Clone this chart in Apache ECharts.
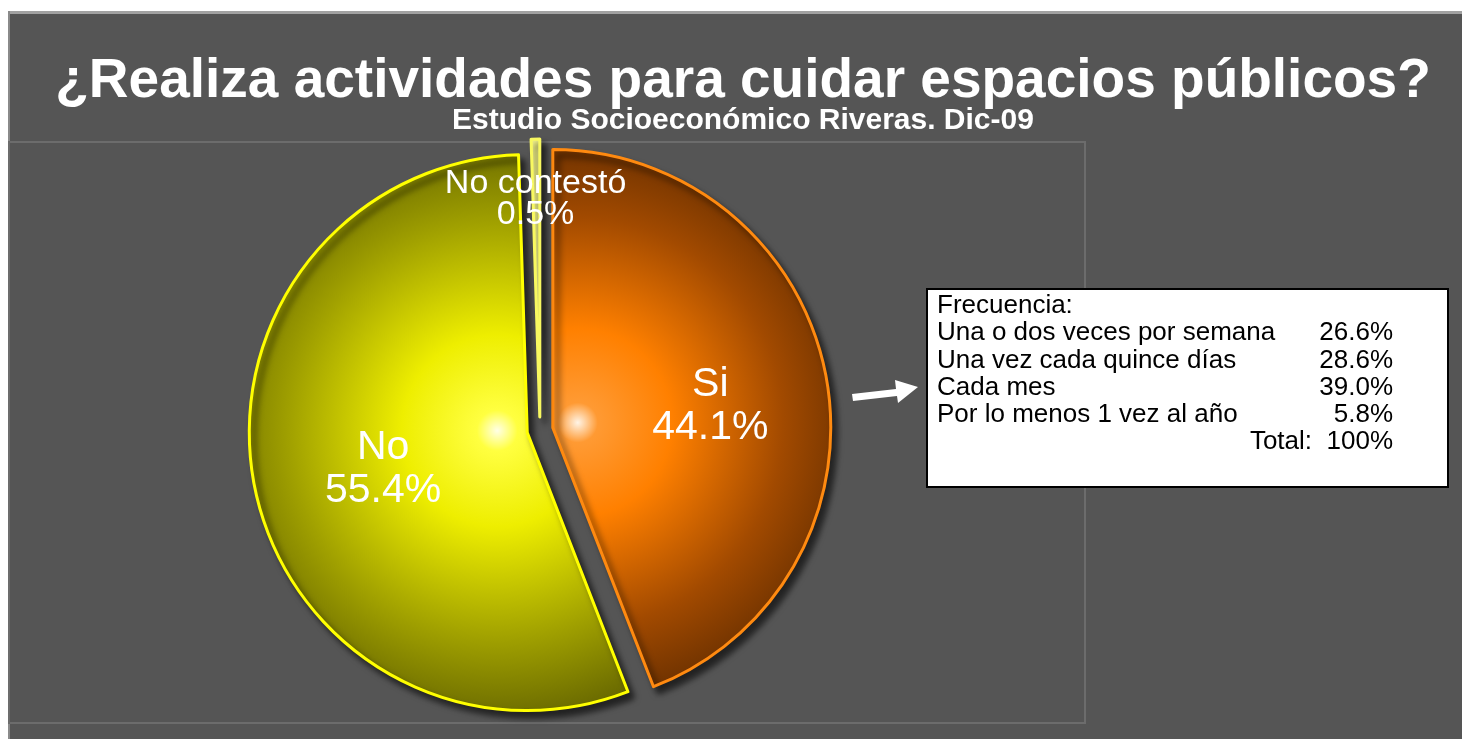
<!DOCTYPE html>
<html>
<head>
<meta charset="utf-8">
<script src="https://cdn.jsdelivr.net/npm/echarts@6/dist/echarts.min.js"></script>
<style>
  html, body { margin: 0; padding: 0; background: #fff; }
  #chart { width: 1462px; height: 739px; }
</style>
</head>
<body>
<div id="chart"></div>
<script>
// answer categories and shares (%)
const categories = ['Si', 'No', 'No contestó']
const shares = [44.1, 55.4, 0.5]

// frequency breakdown of "Si"
const freqTitle = 'Frecuencia:'
const freqLabels = ['Una o dos veces por semana', 'Una vez cada quince días', 'Cada mes', 'Por lo menos 1 vez al año']
const freqValues = [26.6, 28.6, 39.0, 5.8]
const freqTotal = 'Total:  100%'

const FONT = '"Liberation Sans", Arial, sans-serif'

const sliceStyles = [
  {
    color: {
      type: 'radial', x: 565, y: 425, r: 285, global: true,
      colorStops: [
        { offset: 0, color: '#fff4e6' },
        { offset: 0.07, color: '#ff9a33' },
        { offset: 0.33, color: '#ff8000' },
        { offset: 0.72, color: '#a24a00' },
        { offset: 1, color: '#6a3000' }
      ]
    },
    borderColor: '#ff8a10',
    borderWidth: 3
  },
  {
    color: {
      type: 'radial', x: 510, y: 428, r: 290, global: true,
      colorStops: [
        { offset: 0, color: '#ffffe6' },
        { offset: 0.07, color: '#ffff40' },
        { offset: 0.33, color: '#eeee00' },
        { offset: 0.72, color: '#a0a000' },
        { offset: 1, color: '#6a6a00' }
      ]
    },
    borderColor: '#ffff00',
    borderWidth: 3
  },
  {
    color: '#f3f38a',
    borderColor: '#f8f860',
    borderWidth: 3
  }
]

// nudges for the inside labels (dx, dy)
const labelShift = [[18, 5], [-5, 8], [-2, -76]]
const labelSizes = [41, 41, 34]
const labelLines = [43, 43, 31]

const pieData = categories.map((name, i) => ({
  name: name,
  value: shares[i],
  selected: true,
  itemStyle: sliceStyles[i],
  label: {
    fontSize: labelSizes[i],
    lineHeight: labelLines[i]
  }
}))

// table text
const tableGraphics = []
const rowY0 = 306
const rowStep = 27.2
const tableFont = '26px ' + FONT
tableGraphics.push({
  type: 'text', x: 937, y: rowY0, z: 20,
  style: { text: freqTitle, font: tableFont, fill: '#000', verticalAlign: 'middle' }
})
freqLabels.forEach((lab, i) => {
  tableGraphics.push({
    type: 'text', x: 937, y: rowY0 + rowStep * (i + 1), z: 20,
    style: { text: lab, font: tableFont, fill: '#000', verticalAlign: 'middle' }
  })
  tableGraphics.push({
    type: 'text', x: 1393, y: rowY0 + rowStep * (i + 1), z: 20,
    style: { text: freqValues[i].toFixed(1) + '%', font: tableFont, fill: '#000', align: 'right', verticalAlign: 'middle' }
  })
})
tableGraphics.push({
  type: 'text', x: 1393, y: rowY0 + rowStep * 5, z: 20,
  style: { text: freqTotal, font: tableFont, fill: '#000', align: 'right', verticalAlign: 'middle' }
})

const chart = echarts.init(document.getElementById('chart'))
chart.setOption({
  backgroundColor: '#ffffff',
  animation: false,
  graphic: [
    // chart frame
    { type: 'rect', z: -10, shape: { x: 8, y: 11, width: 1454, height: 728 }, style: { fill: '#555555' } },
    { type: 'rect', z: -9, shape: { x: 8, y: 11, width: 1454, height: 3 }, style: { fill: '#a2a2a2' } },
    { type: 'rect', z: -9, shape: { x: 8, y: 11, width: 2, height: 728 }, style: { fill: '#8a8a8a' } },
    // plot area
    { type: 'rect', z: -8, shape: { x: 9, y: 142, width: 1076, height: 581 }, style: { fill: 'none', stroke: '#6c6c6c', lineWidth: 2 } },
    // titles
    {
      type: 'text', x: 743, y: 82, z: 10,
      style: {
        text: '¿Realiza actividades para cuidar espacios públicos?',
        font: 'bold 55px ' + FONT, fill: '#ffffff', align: 'center', verticalAlign: 'middle',
        shadowColor: 'rgba(0,0,0,0.6)', shadowBlur: 3, shadowOffsetX: 2, shadowOffsetY: 2
      }
    },
    {
      type: 'text', x: 743, y: 121, z: 10,
      style: {
        text: 'Estudio Socioeconómico Riveras. Dic-09',
        font: 'bold 30px ' + FONT, fill: '#ffffff', align: 'center', verticalAlign: 'middle',
        shadowColor: 'rgba(0,0,0,0.6)', shadowBlur: 2, shadowOffsetX: 1, shadowOffsetY: 1
      }
    },
    // arrow
    {
      type: 'polygon', z: 10,
      shape: { points: [[852, 394], [896, 389], [895, 380], [918, 387], [898, 403], [897, 396], [853, 401]] },
      style: { fill: '#ffffff' }
    },
    // frequency box
    { type: 'rect', z: 15, shape: { x: 927, y: 289, width: 521, height: 198 }, style: { fill: '#ffffff', stroke: '#000000', lineWidth: 2 } }
  ].concat(tableGraphics),
  series: [
    {
      type: 'pie',
      center: [540, 430],
      radius: 278,
      startAngle: 90,
      clockwise: true,
      selectedMode: 'multiple',
      selectedOffset: 13,
      avoidLabelOverlap: false,
      minShowLabelAngle: 0,
      emphasis: { disabled: true },
      itemStyle: {
        shadowColor: 'rgba(0,0,0,0.6)',
        shadowBlur: 6,
        shadowOffsetX: 5,
        shadowOffsetY: 6
      },
      label: {
        show: true,
        position: 'inside',
        color: '#ffffff',
        fontFamily: FONT,
        formatter: p => p.name + '\n' + p.value.toFixed(1) + '%'
      },
      labelLine: { show: false },
      labelLayout: p => ({ dx: labelShift[p.dataIndex][0], dy: labelShift[p.dataIndex][1], hideOverlap: false }),
      data: pieData
    }
  ]
})
</script>
</body>
</html>
